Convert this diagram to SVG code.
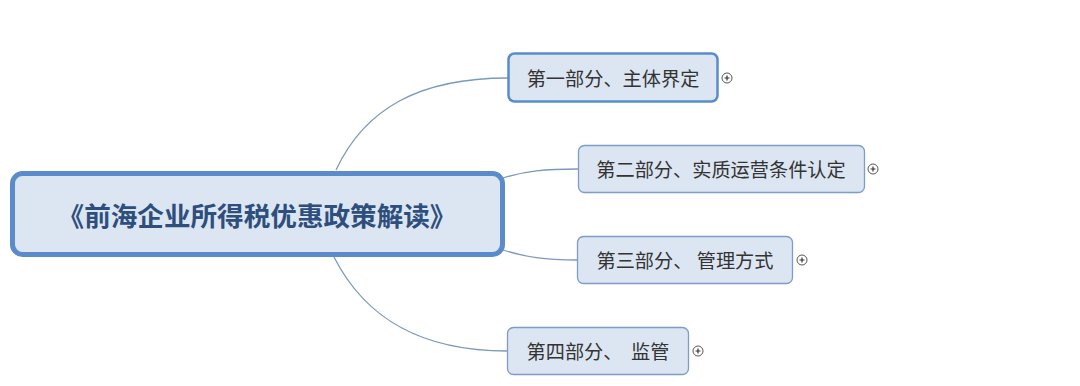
<svg xmlns="http://www.w3.org/2000/svg" width="1080" height="386" viewBox="0 0 1080 386">
<style>
.bg{fill:#ffffff}
.conn{fill:none;stroke:#7d98bd;stroke-width:1.3}
.root{fill:#dce6f2;stroke:#5a8ccb;stroke-width:5}
.n1{fill:#dce6f2;stroke:#5a8ccb;stroke-width:2.5}
.n{fill:#dce6f2;stroke:#7d9cc6;stroke-width:1.3}
.t{font-family:"Noto Sans CJK SC","Noto Sans",sans-serif;font-size:19.2px;fill:#333333;text-anchor:middle;dominant-baseline:central;white-space:pre}
.rt{font-family:"Noto Sans CJK SC","Noto Sans",sans-serif;font-size:26.6px;font-weight:bold;fill:#2e4f7d;text-anchor:middle;dominant-baseline:central}
.plus circle{fill:#ffffff;stroke:#555555;stroke-width:1}
.plus path{stroke:#333333;stroke-width:1.2}
</style>
<rect class="bg" x="0" y="0" width="1080" height="386"/>
<g id="connectors">
<path class="conn" d="M336,170 C365,108 420,78 508,78"/>
<path class="conn" d="M503,178 C525,171 545,169 578,169"/>
<path class="conn" d="M503,250 C525,257 545,260 577,260"/>
<path class="conn" d="M334,257 C365,318 420,351 507,351"/>
</g>
<g id="root">
<rect class="root" x="12.5" y="173.5" width="490" height="81" rx="10"/>
<text class="rt" x="257" y="214">《前海企业所得税优惠政策解读》</text>
</g>
<g id="node1">
<rect class="n1" x="508.5" y="53.5" width="209" height="48" rx="6"/>
<text class="t" x="613" y="78">第一部分、主体界定</text>
<g class="plus"><circle cx="727" cy="78" r="5"/><path d="M724.5,78h5M727,75.5v5"/></g>
</g>
<g id="node2">
<rect class="n" x="578.5" y="145.5" width="286" height="47" rx="6"/>
<text class="t" x="721" y="169">第二部分、实质运营条件认定</text>
<g class="plus"><circle cx="873" cy="169" r="5"/><path d="M870.5,169h5M873,166.5v5"/></g>
</g>
<g id="node3">
<rect class="n" x="577.5" y="236.5" width="215" height="47" rx="6"/>
<text class="t" x="685" y="260">第三部分、 管理方式</text>
<g class="plus"><circle cx="802" cy="260" r="5"/><path d="M799.5,260h5M802,257.5v5"/></g>
</g>
<g id="node4">
<rect class="n" x="507.5" y="327.5" width="181" height="47" rx="6"/>
<text class="t" x="598" y="351">第四部分、  监管</text>
<g class="plus"><circle cx="698" cy="351" r="5"/><path d="M695.5,351h5M698,348.5v5"/></g>
</g>
</svg>
